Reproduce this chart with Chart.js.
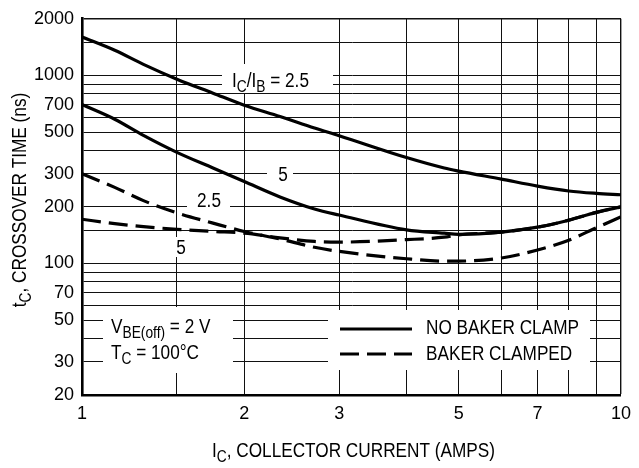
<!DOCTYPE html>
<html>
<head>
<meta charset="utf-8">
<title>Crossover Time vs Collector Current</title>
<script src="https://cdn.jsdelivr.net/npm/chart.js@4/dist/chart.umd.min.js"></script>
<style>
  html, body { margin: 0; padding: 0; background: #fff; }
  #chart { display: block; }
</style>
</head>
<body>
<canvas id="chart" width="639" height="468"></canvas>
<script>
// Collector current sample points (amps)
const collectorCurrent = [1, 1.15, 1.3, 1.5, 1.75, 2, 2.33, 2.7, 3, 4, 4.7, 5, 6, 7, 8, 9, 10];

// Crossover time (ns), no Baker clamp
const noClampRatio25 = [1600, 1360, 1145, 955, 805, 695, 605, 525, 478, 366, 322, 310, 281, 258, 243, 236, 232];
const noClampRatio5  = [700, 585, 480, 390, 322, 273, 226, 195, 181, 151, 145, 143, 147, 156, 170, 187, 200];

// Crossover time (ns), Baker clamped
const clampRatio25 = [300, 254, 216, 186, 164, 148, 135, 122, 116, 106, 103, 103, 107, 118, 133, 155, 177];
const clampRatio5  = [172, 163, 157, 152, 148, 145, 137, 131, 130, 134, 138, 142, 147, 156, 170, 187, 200];

// Axis grid values and the ones that carry labels
const gridX   = [1, 1.5, 2, 3, 4, 5, 6, 7, 8, 9, 10];
const labelsX = [1, 2, 3, 5, 7, 10];
const gridY   = [20, 30, 40, 50, 60, 70, 80, 90, 100, 150, 200, 300, 400, 500, 600, 700, 800, 900, 1000, 1500, 2000];
const labelsY = [20, 30, 50, 70, 100, 200, 300, 500, 700, 1000, 2000];

const FAMILY = "'Liberation Sans', Arial, Helvetica, sans-serif";
const MAIN = 20, SUB = 16, SUB_DY = 5, NARROW = 0.86, TICK = 18;

Chart.defaults.font.family = FAMILY;
Chart.defaults.color = '#000';

function points(ys) {
  return collectorCurrent.map((x, i) => ({ x: x, y: ys[i] }));
}

function curve(ys, dashed) {
  return {
    data: points(ys),
    borderColor: '#000',
    borderWidth: 3.2,
    borderDash: dashed ? [19, 8] : [],
    pointRadius: 0,
    fill: false,
    cubicInterpolationMode: 'monotone',
    borderCapStyle: 'butt'
  };
}

// condensed rich text: parts = [[text, isSubscript], ...]
function richWidth(ctx, parts) {
  let w = 0;
  for (const [t, s] of parts) {
    ctx.font = (s ? SUB : MAIN) + 'px ' + FAMILY;
    w += ctx.measureText(t).width;
  }
  return w * NARROW;
}
function drawRich(ctx, parts, x, y, align) {
  const w = richWidth(ctx, parts);
  const x0 = align === 'center' ? x - w / 2 : x;
  ctx.save();
  ctx.translate(x0, y);
  ctx.scale(NARROW, 1);
  ctx.textAlign = 'left';
  let cx = 0;
  for (const [t, s] of parts) {
    ctx.font = (s ? SUB : MAIN) + 'px ' + FAMILY;
    ctx.fillText(t, cx, s ? SUB_DY : 0);
    cx += ctx.measureText(t).width;
  }
  ctx.restore();
}

const whiteBoxes = [
  [222, 64, 111, 29],   // IC/IB = 2.5
  [187, 192, 43, 19],   // 2.5 (clamped)
  [267, 165, 26, 18],   // 5 (no clamp)
  [172, 237, 18, 20],   // 5 (clamped)
  [103, 307, 130, 66],  // conditions
  [328, 310, 262, 60]   // line key
];

const decorations = {
  id: 'decorations',
  beforeDatasetsDraw(chart) {
    const ctx = chart.ctx;
    ctx.save();
    ctx.fillStyle = '#fff';
    for (const [x, y, w, h] of whiteBoxes) ctx.fillRect(x, y, w, h);
    ctx.restore();
  },
  afterDatasetsDraw(chart) {
    const ctx = chart.ctx;
    ctx.save();
    ctx.fillStyle = '#000';
    ctx.textBaseline = 'alphabetic';

    // curve labels
    drawRich(ctx, [['I', 0], ['C', 1], ['/I', 0], ['B', 1], [' = 2.5', 0]], 232, 87);
    drawRich(ctx, [['2.5', 0]], 209, 207, 'center');
    drawRich(ctx, [['5', 0]], 283, 181, 'center');
    drawRich(ctx, [['5', 0]], 181, 254, 'center');

    // test conditions
    drawRich(ctx, [['V', 0], ['BE(off)', 1], [' = 2 V', 0]], 111, 333);
    drawRich(ctx, [['T', 0], ['C', 1], [' = 100°C', 0]], 111, 359);

    // line key
    ctx.strokeStyle = '#000';
    ctx.lineWidth = 3;
    ctx.beginPath();
    ctx.moveTo(340, 329); ctx.lineTo(412, 329);
    ctx.stroke();
    ctx.setLineDash([19, 8]);
    ctx.beginPath();
    ctx.moveTo(340, 354); ctx.lineTo(412, 354);
    ctx.stroke();
    ctx.setLineDash([]);
    drawRich(ctx, [['NO BAKER CLAMP', 0]], 426, 334);
    drawRich(ctx, [['BAKER CLAMPED', 0]], 426, 360);

    // axis titles
    drawRich(ctx, [['I', 0], ['C', 1], [', COLLECTOR CURRENT (AMPS)', 0]], 212, 457);

    const yParts = [['t', 0], ['C', 1], [', CROSSOVER TIME (ns)', 0]];
    const yw = richWidth(ctx, yParts);
    ctx.translate(26, 200 + yw / 2);
    ctx.rotate(-Math.PI / 2);
    drawRich(ctx, yParts, 0, 0);
    ctx.restore();
  }
};

new Chart(document.getElementById('chart'), {
  type: 'line',
  data: {
    datasets: [
      curve(noClampRatio25, false),
      curve(noClampRatio5, false),
      curve(clampRatio25, true),
      curve(clampRatio5, true)
    ]
  },
  options: {
    responsive: false,
    animation: false,
    layout: { padding: { top: 10, right: 10, left: 0, bottom: 0 } },
    plugins: { legend: { display: false }, tooltip: { enabled: false } },
    scales: {
      x: {
        type: 'logarithmic',
        min: 1,
        max: 10,
        afterBuildTicks: s => { s.ticks = gridX.map(v => ({ value: v })); },
        afterFit: s => { s.height = 73; },
        ticks: {
          autoSkip: false,
          maxRotation: 0,
          padding: 8,
          font: { size: TICK },
          color: '#000',
          callback: v => labelsX.includes(v) ? String(v) : ''
        },
        grid: {
          color: '#111',
          lineWidth: c => (c.tick && c.tick.value === 10) ? 1.4 : 1,
          drawTicks: false
        },
        border: { display: true, color: '#000', width: 2.6 }
      },
      y: {
        type: 'logarithmic',
        min: 20,
        max: 2000,
        afterBuildTicks: s => { s.ticks = gridY.map(v => ({ value: v })); },
        afterFit: s => { s.width = 82; },
        ticks: {
          autoSkip: false,
          padding: 8,
          font: { size: TICK },
          color: '#000',
          callback: v => labelsY.includes(v) ? String(v) : ''
        },
        grid: {
          color: '#111',
          lineWidth: c => (c.tick && c.tick.value === 2000) ? 1.4 : 1,
          drawTicks: false
        },
        border: { display: true, color: '#000', width: 2.6 }
      }
    }
  },
  plugins: [decorations]
});
</script>
</body>
</html>
